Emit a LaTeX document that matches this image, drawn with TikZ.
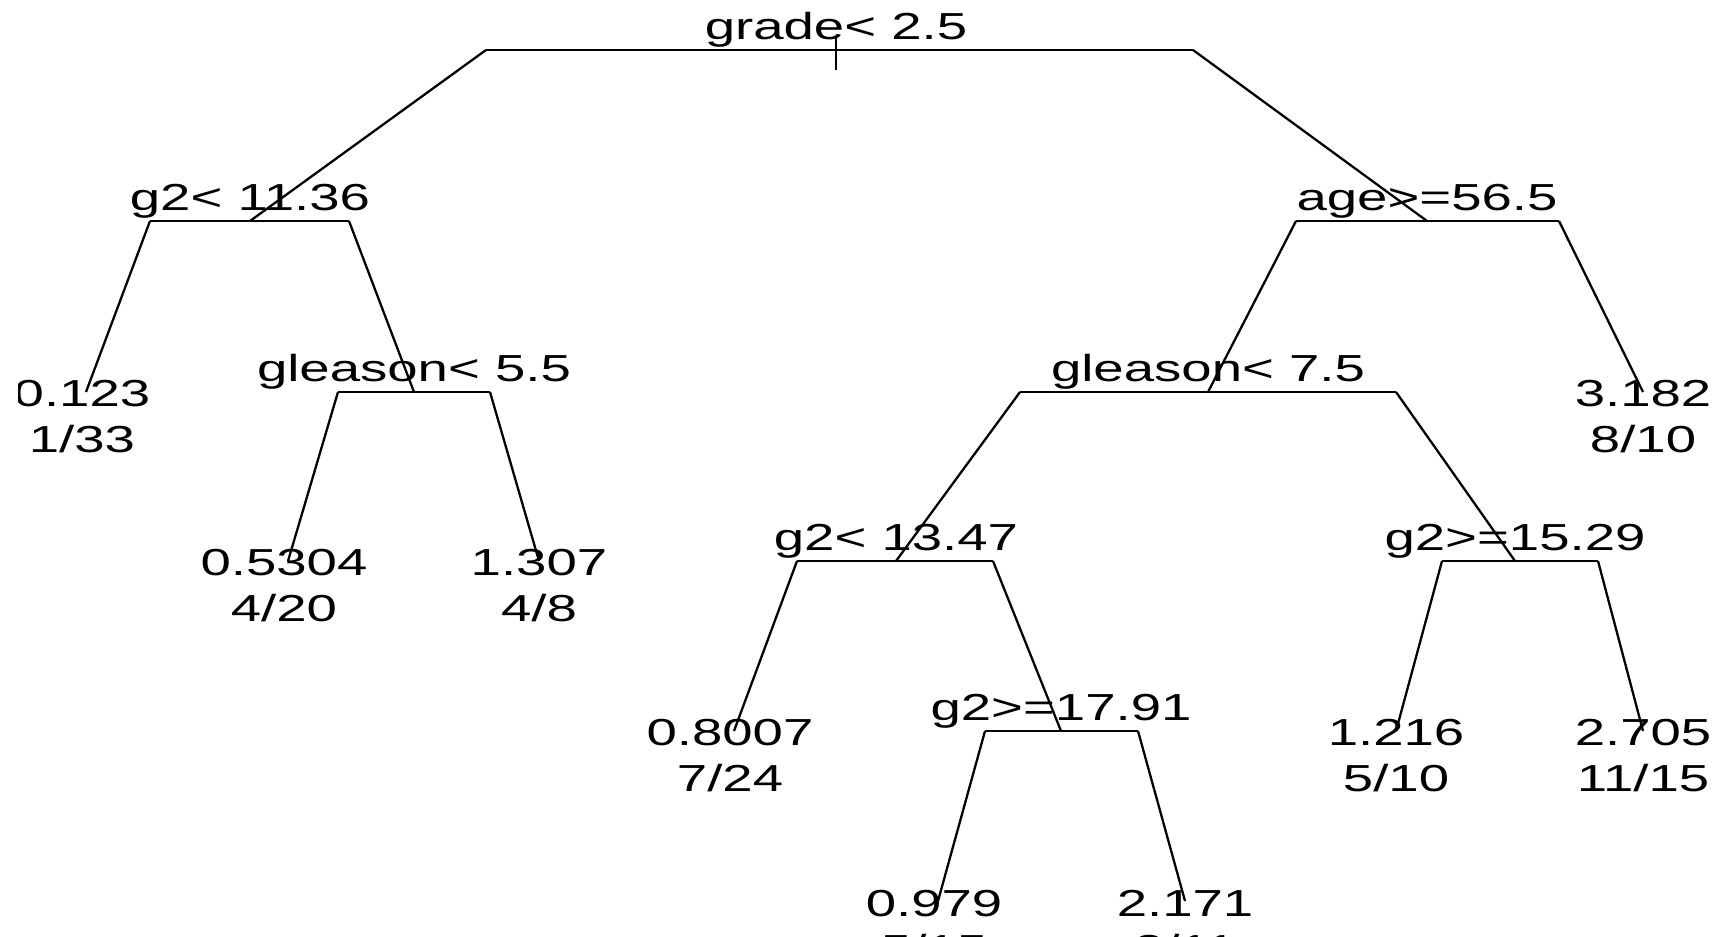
\documentclass[tikz,border=0pt]{standalone}
\usepackage{fontspec}
\setmainfont{Liberation Sans}[FakeStretch=1.45]
\begin{document}
\begin{tikzpicture}[x=0.01cm,y=-0.01cm,line width=0.65pt,
  lbl/.style={anchor=base,inner sep=0pt,font=\fontsize{10.7}{12}\selectfont},
  edge/.style={draw=black,line width=0.65pt}]
\useasboundingbox (0,0) rectangle (1731,936);
\clip (18,0) rectangle (1731,936);
% levels: 50, 221, 392, 561, 731, 901
% ---- split nodes: point, bar ends, label
\coordinate (n1) at (836,50);   \coordinate (n1L) at (486,50);   \coordinate (n1R) at (1193,50);
\coordinate (n2) at (250,221);  \coordinate (n2L) at (150,221);  \coordinate (n2R) at (349,221);
\coordinate (n3) at (1427,221); \coordinate (n3L) at (1296,221); \coordinate (n3R) at (1559,221);
\coordinate (n5) at (414,392);  \coordinate (n5L) at (338,392);  \coordinate (n5R) at (490,392);
\coordinate (n6) at (1208,392); \coordinate (n6L) at (1020,392); \coordinate (n6R) at (1396,392);
\coordinate (n12) at (896,561); \coordinate (n12L) at (797,561); \coordinate (n12R) at (993,561);
\coordinate (n13) at (1515,561);\coordinate (n13L) at (1442,561);\coordinate (n13R) at (1598,561);
\coordinate (n25) at (1061,731);\coordinate (n25L) at (985,731); \coordinate (n25R) at (1138,731);
% ---- leaf points
\coordinate (n4) at (86,392);
\coordinate (n7) at (1643,392);
\coordinate (n10) at (288,561);
\coordinate (n11) at (539,561);
\coordinate (n24) at (734,731);
\coordinate (n26) at (1396,731);
\coordinate (n27) at (1643,731);
\coordinate (n50) at (938,901);
\coordinate (n51) at (1185,901);
% root stub
\coordinate (s1a) at (836,36); \coordinate (s1b) at (836,70);
\draw[edge] (s1a) -- (s1b);
% bars
\foreach \n in {n1,n2,n3,n5,n6,n12,n13,n25}{\draw[edge] (\n L) -- (\n R);}
% connectors
\draw[edge] (n1L) -- (n2);   \draw[edge] (n1R) -- (n3);
\draw[edge] (n2L) -- (n4);   \draw[edge] (n2R) -- (n5);
\draw[edge] (n3L) -- (n6);   \draw[edge] (n3R) -- (n7);
\draw[edge] (n5L) -- (n10);  \draw[edge] (n5R) -- (n11);
\draw[edge] (n6L) -- (n12);  \draw[edge] (n6R) -- (n13);
\draw[edge] (n12L) -- (n24); \draw[edge] (n12R) -- (n25);
\draw[edge] (n13L) -- (n26); \draw[edge] (n13R) -- (n27);
\draw[edge] (n25L) -- (n50); \draw[edge] (n25R) -- (n51);
% split labels
\node[lbl] (t1) at (836,39) {grade< 2.5};
\node[lbl] (t2) at (250,210) {g2< 11.36};
\node[lbl] (t3) at (1427,210) {age>=56.5};
\node[lbl] (t5) at (414,381) {gleason< 5.5};
\node[lbl] (t6) at (1208,381) {gleason< 7.5};
\node[lbl] (t12) at (896,550) {g2< 13.47};
\node[lbl] (t13) at (1515,550) {g2>=15.29};
\node[lbl] (t25) at (1061,720) {g2>=17.91};
% leaf labels
\node[lbl] (v4) at (82,406) {0.123};   \node[lbl] (c4) at (82,452) {1/33};
\node[lbl] (v7) at (1643,406) {3.182}; \node[lbl] (c7) at (1643,452) {8/10};
\node[lbl] (v10) at (284,575) {0.5304};\node[lbl] (c10) at (284,621) {4/20};
\node[lbl] (v11) at (539,575) {1.307}; \node[lbl] (c11) at (539,621) {4/8};
\node[lbl] (v24) at (730,745) {0.8007};\node[lbl] (c24) at (730,791) {7/24};
\node[lbl] (v26) at (1396,745) {1.216};\node[lbl] (c26) at (1396,791) {5/10};
\node[lbl] (v27) at (1643,745) {2.705};\node[lbl] (c27) at (1643,791) {11/15};
\node[lbl] (v50) at (934,916) {0.979}; \node[lbl] (c50) at (934,961) {5/15};
\node[lbl] (v51) at (1185,916) {2.171};\node[lbl] (c51) at (1185,961) {3/11};
\end{tikzpicture}
\end{document}
